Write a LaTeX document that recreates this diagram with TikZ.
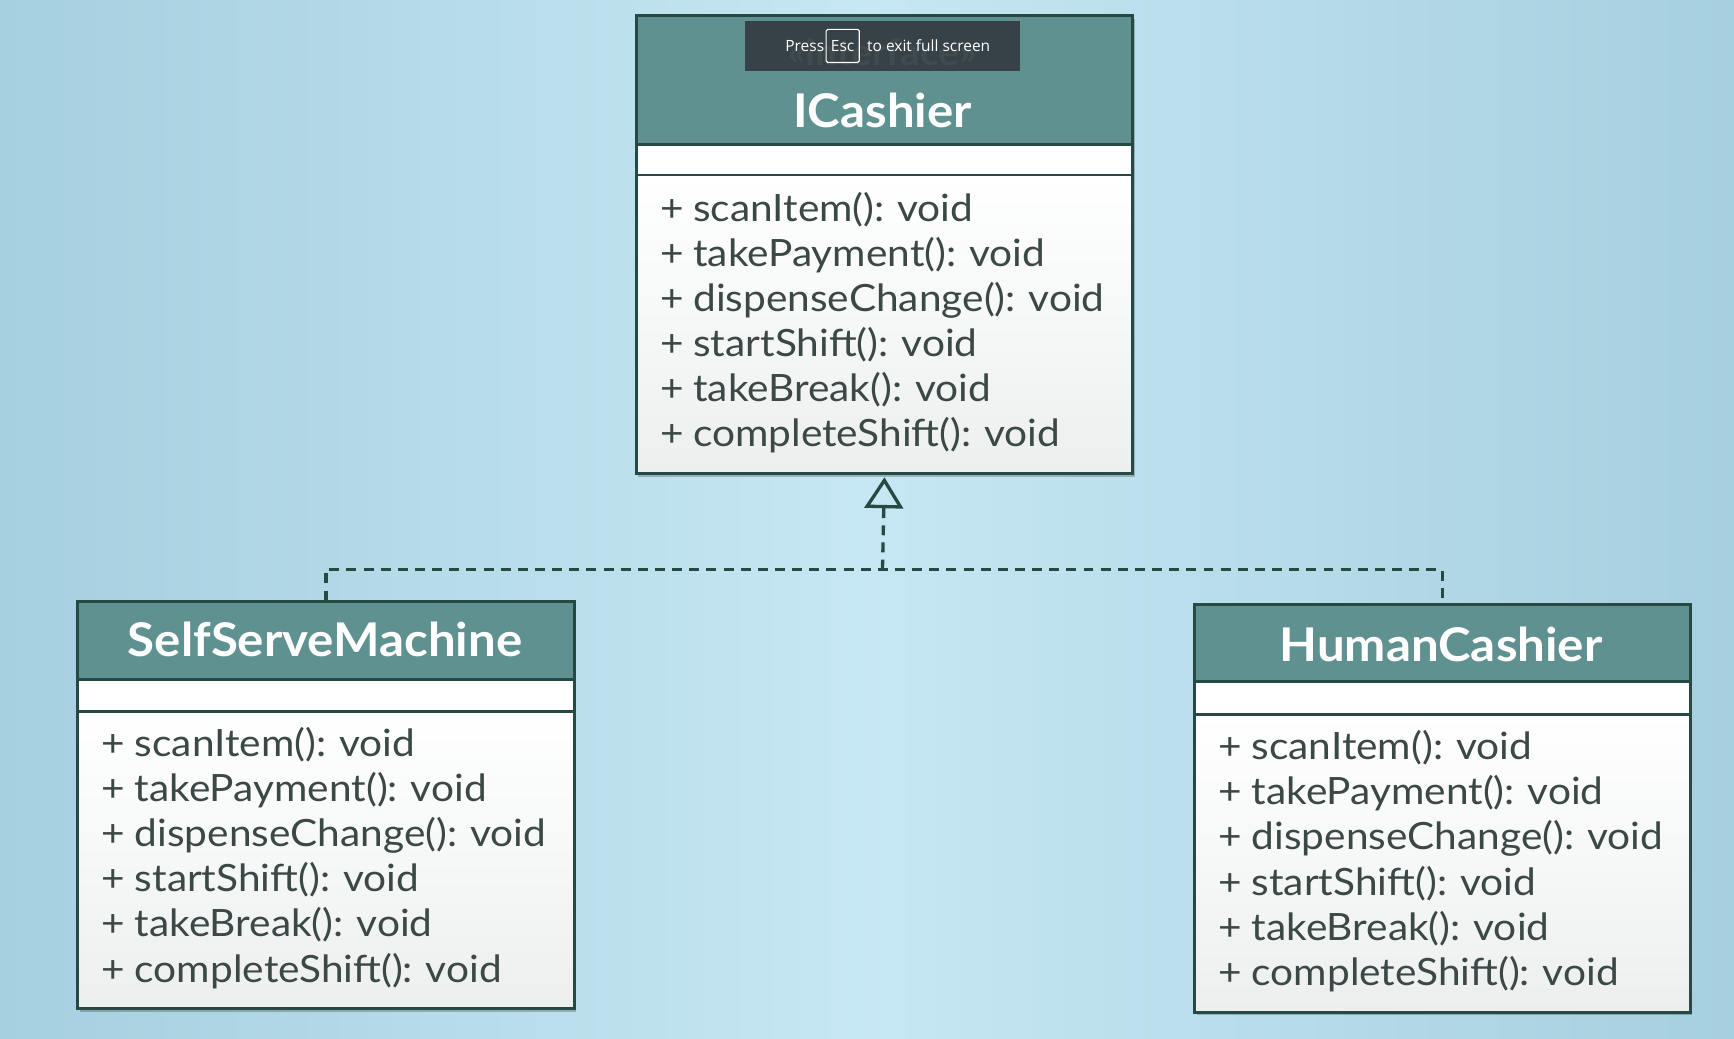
\documentclass[tikz,border=0pt]{standalone}
\usepackage{fontspec}
\setmainfont{Lato}
\newfontfamily\methfont[FakeStretch=1.08, WordSpace=0.9]{Lato}
\newfontfamily\ttlfontfam[FakeStretch=1.06]{Lato}
\newfontfamily\osdfont{Open Sans}
\usetikzlibrary{arrows.meta}
\definecolor{bgedge}{HTML}{A6CFDF}
\definecolor{bgmid}{HTML}{C6E7F3}
\definecolor{hdrcol}{HTML}{5F9191}
\definecolor{bordercol}{HTML}{264A43}
\definecolor{methtext}{HTML}{3B4846}
\definecolor{methbot}{HTML}{EDEFEF}
\definecolor{osdcol}{HTML}{333D42}
\tikzset{
  boxline/.style={draw=bordercol, line width=2.6pt, anchor=north west, inner sep=0pt, minimum width=449pt},
  hdr/.style={boxline, fill=hdrcol},
  attrbox/.style={boxline, fill=white},
  methbox/.style={boxline, top color=white, bottom color=methbot},
  ttl/.style={text=white, font={\ttlfontfam\bfseries\fontsize{42}{48}\selectfont}, anchor=base, inner sep=0pt},
  stereo/.style={text=white, font={\ttlfontfam\bfseries\fontsize{33}{38}\selectfont}, anchor=base, inner sep=0pt},
  mline/.style={text=methtext, font={\methfont\fontsize{34}{40}\selectfont}, anchor=base west, inner sep=0pt},
  shadowbox/.style={fill=black, opacity=0.22},
  realize/.style={draw=bordercol, line width=3pt, dash pattern=on 9pt off 6.5pt},
  osdtext/.style={text=white, font={\osdfont\fontsize{14}{16}\selectfont}, anchor=base west, inner sep=0pt}
}
\begin{document}
\begin{tikzpicture}[x=1pt,y=-1pt]
\useasboundingbox (0,0) rectangle (1568,939);
\shade[left color=bgedge, right color=bgedge, middle color=bgmid] (0,0) rectangle (1568,939);

% shadows
\fill[shadowbox] (577,17) rectangle (1026,431);
\fill[shadowbox] (72,547) rectangle (521,915);
\fill[shadowbox] (1082,549) rectangle (1530,918);

% ICashier
\node[hdr, minimum height=116pt] (ichead) at (574,13) {};
\node[attrbox, minimum height=28pt] (icattr) at (574,129) {};
\node[methbox, minimum height=270pt] (icmeth) at (574,157) {};
\node[stereo] (icstereo) at (798,59) {«interface»};
\node[ttl] (ictitle) at (798,115) {ICashier};
\foreach \t [count=\i from 0] in {+ scanItem(): void, + takePayment(): void, + dispenseChange(): void, + startShift(): void, + takeBreak(): void, + completeShift(): void}
  \node[mline] (icm\i) at (597,{200+40.8*\i}) {\t};

% SelfServeMachine
\node[hdr, minimum height=70pt] (sshead) at (69,543) {};
\node[attrbox, minimum height=29pt] (ssattr) at (69,613) {};
\node[methbox, minimum height=269pt] (ssmeth) at (69,642) {};
\node[ttl] (sstitle) at (294,594) {SelfServeMachine};
\foreach \t [count=\i from 0] in {+ scanItem(): void, + takePayment(): void, + dispenseChange(): void, + startShift(): void, + takeBreak(): void, + completeShift(): void}
  \node[mline] (ssm\i) at (92,{684+40.8*\i}) {\t};

% HumanCashier
\node[hdr, minimum height=70pt, minimum width=448pt] (hchead) at (1079,545) {};
\node[attrbox, minimum height=30pt, minimum width=448pt] (hcattr) at (1079,615) {};
\node[methbox, minimum height=269pt, minimum width=448pt] (hcmeth) at (1079,645) {};
\node[ttl] (hctitle) at (1303,598) {HumanCashier};
\foreach \t [count=\i from 0] in {+ scanItem(): void, + takePayment(): void, + dispenseChange(): void, + startShift(): void, + takeBreak(): void, + completeShift(): void}
  \node[mline] (hcm\i) at (1102,{687+40.8*\i}) {\t};

% realization connectors
\coordinate (hub) at (798,515);
\draw[realize] (sshead.north) |- (hub) -| (hchead.north);
\draw[realize, shorten >=2pt, -{Triangle[open, length=28pt, width=35pt, line width=3pt]}] (hub) -- (icmeth.south);

% full screen notice overlay
\fill[osdcol, opacity=0.93] (674,19) rectangle (922,64);
\node[osdtext] (press) at (710,47) {Press};
\node[draw=white, line width=1pt, rounded corners=1.5pt, minimum width=30pt, minimum height=30pt, inner sep=0pt, text=white, font={\osdfont\fontsize{14}{16}\selectfont}] (esc) at (762,41.5) {Esc};
\node[osdtext] (exitmsg) at (784,47) {to exit full screen};
\end{tikzpicture}
\end{document}
